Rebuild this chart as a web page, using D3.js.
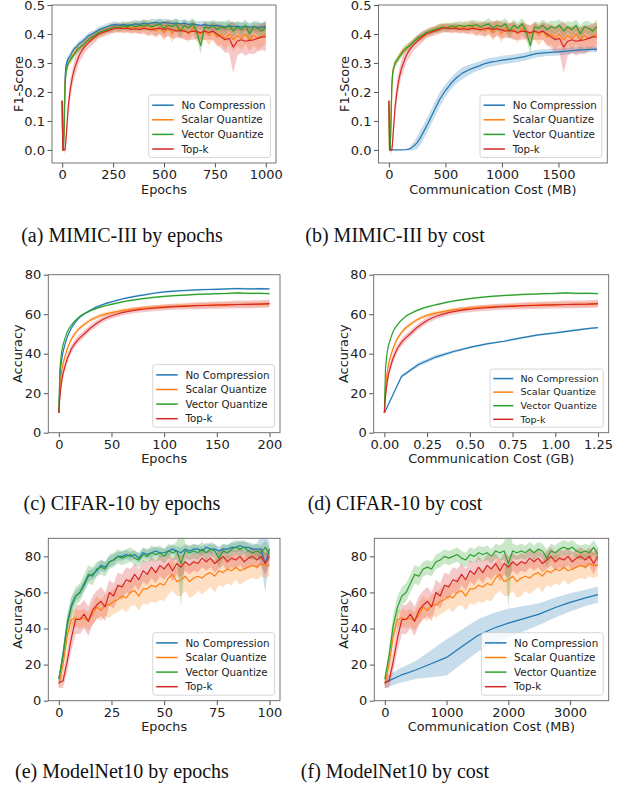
<!DOCTYPE html>
<html lang="en">
<head>
<meta charset="UTF-8">
<title>Compression comparison</title>
<script src="https://d3js.org/d3.v7.min.js"></script>
<style>
    body { margin: 0; background: #fff; }
    svg text { font-family: "DejaVu Sans", sans-serif; fill: #222; }
    svg text.caption { font-family: "Liberation Serif", "Times New Roman", serif; fill: #111; }
</style>
</head>
<body>
<svg id="fig" width="624" height="790"></svg>
<script>
const methods = ['No Compression', 'Scalar Quantize', 'Vector Quantize', 'Top-k'];
const colors = ['#1f77b4', '#ff7f0e', '#2ca02c', '#d62728'];

// ---- MIMIC-III (F1) ----
const mimicEpochs = [0,3,6,10,14,18,22,26,30,40,50,60,70,80,90,100,115,130,145,160,180,200,220,240,260,280,300,320,340,360,380,400,420,440,460,480,500,520,540,560,580,600,620,640,660,680,700,720,740,760,780,800,820,840,860,880,900,920,940,960,980,1000];
const mimicCost = [0,6,11,18,26,33,40,48,55,74,92,110,129,147,166,184,212,239,267,294,331,368,405,442,478,515,552,589,626,662,699,736,773,810,846,883,920,957,994,1030,1067,1104,1141,1178,1214,1251,1288,1325,1362,1398,1435,1472,1509,1546,1582,1619,1656,1693,1730,1766,1803,1840];
const mimicNoComp = [0.17,0,0,0.12,0.25,0.29,0.30,0.31,0.315,0.325,0.34,0.35,0.355,0.365,0.37,0.375,0.385,0.395,0.40,0.405,0.415,0.42,0.425,0.43,0.432,0.43,0.433,0.43,0.432,0.435,0.433,0.437,0.435,0.438,0.44,0.437,0.44,0.438,0.436,0.438,0.435,0.437,0.433,0.435,0.432,0.43,0.432,0.43,0.428,0.43,0.427,0.425,0.428,0.425,0.427,0.424,0.426,0.424,0.425,0.422,0.424,0.425];
const mimicNoCompSd = [0,0,0,0.02,0.02,0.015,0.015,0.012,0.012,0.012,0.01,0.01,0.01,0.01,0.01,0.01,0.01,0.01,0.01,0.01,0.01,0.01,0.012,0.01,0.012,0.01,0.012,0.01,0.012,0.014,0.012,0.014,0.012,0.015,0.012,0.014,0.012,0.014,0.012,0.014,0.012,0.014,0.012,0.014,0.012,0.015,0.014,0.015,0.014,0.015,0.014,0.015,0.014,0.016,0.014,0.015,0.014,0.016,0.015,0.016,0.015,0.016];
const mimicScalar = [0.17,0,0,0.10,0.23,0.265,0.28,0.29,0.30,0.31,0.325,0.335,0.345,0.35,0.355,0.36,0.37,0.38,0.385,0.39,0.40,0.41,0.415,0.42,0.42,0.425,0.42,0.425,0.42,0.425,0.42,0.43,0.415,0.425,0.41,0.42,0.405,0.425,0.40,0.42,0.41,0.415,0.40,0.42,0.405,0.40,0.41,0.395,0.41,0.39,0.40,0.385,0.40,0.38,0.395,0.385,0.40,0.38,0.395,0.385,0.39,0.40];
const mimicScalarSd = [0,0,0,0.02,0.02,0.015,0.015,0.015,0.012,0.012,0.012,0.012,0.012,0.012,0.012,0.012,0.012,0.012,0.012,0.012,0.012,0.015,0.012,0.015,0.015,0.015,0.015,0.018,0.015,0.02,0.02,0.02,0.025,0.02,0.025,0.02,0.03,0.025,0.03,0.025,0.025,0.03,0.03,0.025,0.03,0.03,0.03,0.035,0.03,0.035,0.035,0.04,0.035,0.04,0.035,0.04,0.035,0.04,0.035,0.04,0.035,0.035];
const mimicVector = [0.17,0,0,0.08,0.22,0.26,0.28,0.29,0.30,0.31,0.32,0.33,0.34,0.35,0.355,0.36,0.37,0.38,0.39,0.395,0.405,0.41,0.415,0.42,0.425,0.42,0.428,0.425,0.43,0.425,0.43,0.428,0.432,0.425,0.43,0.435,0.42,0.43,0.425,0.435,0.41,0.43,0.42,0.435,0.41,0.36,0.425,0.42,0.43,0.415,0.425,0.42,0.43,0.41,0.425,0.415,0.43,0.40,0.425,0.42,0.41,0.425];
const mimicVectorSd = [0,0,0,0.02,0.02,0.015,0.015,0.015,0.012,0.012,0.012,0.012,0.012,0.012,0.012,0.012,0.012,0.012,0.012,0.012,0.012,0.012,0.012,0.015,0.012,0.015,0.012,0.015,0.015,0.015,0.015,0.018,0.015,0.018,0.015,0.02,0.02,0.018,0.02,0.02,0.025,0.02,0.02,0.02,0.025,0.03,0.02,0.02,0.02,0.025,0.02,0.025,0.02,0.025,0.02,0.025,0.02,0.03,0.02,0.025,0.025,0.025];
const mimicTopk = [0.17,0,0,0,0,0.03,0.07,0.11,0.15,0.21,0.25,0.28,0.30,0.32,0.335,0.345,0.36,0.37,0.38,0.39,0.40,0.405,0.41,0.415,0.42,0.42,0.418,0.42,0.416,0.418,0.415,0.42,0.417,0.415,0.418,0.42,0.416,0.418,0.415,0.41,0.412,0.41,0.405,0.41,0.408,0.405,0.41,0.405,0.41,0.40,0.39,0.38,0.385,0.355,0.375,0.38,0.375,0.378,0.38,0.385,0.39,0.39];
const mimicTopkSd = [0,0,0,0.01,0.01,0.02,0.03,0.035,0.035,0.035,0.03,0.03,0.03,0.025,0.025,0.025,0.02,0.02,0.02,0.02,0.015,0.015,0.015,0.015,0.015,0.015,0.015,0.015,0.015,0.015,0.015,0.02,0.02,0.02,0.025,0.02,0.03,0.025,0.03,0.025,0.025,0.03,0.025,0.03,0.025,0.025,0.03,0.025,0.03,0.035,0.04,0.045,0.05,0.09,0.05,0.045,0.05,0.045,0.05,0.045,0.045,0.05];
// uncompressed run plotted against its own (much larger) communication cost
const mimicNoCompCost = [0,50,100,150,180,200,225,250,275,300,350,400,450,500,550,600,650,700,750,800,850,900,950,1000,1100,1200,1300,1400,1500,1600,1700,1840];
const mimicNoCompByCost = [0,0,0,0.001,0.003,0.008,0.015,0.025,0.04,0.058,0.095,0.135,0.175,0.205,0.23,0.25,0.265,0.275,0.283,0.29,0.298,0.303,0.306,0.31,0.315,0.322,0.332,0.336,0.338,0.342,0.345,0.348];
const mimicNoCompByCostSd = [0,0,0,0,0.005,0.01,0.015,0.022,0.025,0.025,0.025,0.025,0.025,0.022,0.02,0.02,0.02,0.018,0.016,0.015,0.015,0.015,0.015,0.015,0.014,0.014,0.013,0.012,0.012,0.011,0.01,0.01];

// ---- CIFAR-10 (accuracy) ----
const cifarEpochs = [0,1,2,3,4,6,8,10,12,15,18,21,25,30,35,40,45,50,55,60,65,70,75,80,90,100,110,120,130,140,150,160,170,180,190,200];
const cifarCost = [0,0.00625,0.0125,0.01875,0.025,0.0375,0.05,0.0625,0.075,0.09375,0.1125,0.13125,0.15625,0.1875,0.21875,0.25,0.28125,0.3125,0.34375,0.375,0.40625,0.4375,0.46875,0.5,0.5625,0.625,0.6875,0.75,0.8125,0.875,0.9375,1,1.0625,1.125,1.1875,1.25];
const cifarNoComp = [10,28,34,38,41,45,48.5,51,53,55.5,57.5,59,60.5,62,63.5,64.5,65.5,66.2,67,67.7,68.3,68.8,69.3,69.7,70.6,71.3,71.7,72,72.3,72.5,72.6,72.8,73,72.8,72.9,72.8];
const cifarNoCompSd = [0,1,0.8,0.7,0.6,0.5,0.5,0.5,0.5,0.5,0.5,0.5,0.5,0.5,0.5,0.5,0.5,0.5,0.5,0.5,0.5,0.5,0.5,0.5,0.5,0.5,0.5,0.5,0.5,0.5,0.5,0.5,0.5,0.5,0.5,0.5];
const cifarScalar = [10,22,28,32,35,39,42.5,45,47.5,50,52,53.5,55.2,57,58.3,59.4,60.2,60.8,61.3,61.8,62.2,62.5,62.8,63.1,63.5,63.8,64,64.3,64.4,64.6,64.7,64.8,64.9,65,65,65.2];
const cifarScalarSd = [0,1.5,1.5,1.5,1.5,1.2,1.2,1.2,1.2,1.2,1,1,1,1,1,1,1,1,1,1,1,1,1,1,1,1,1,1,1.2,1.2,1.2,1.2,1.2,1.2,1.2,1.2];
const cifarVector = [10,32,38,42,44.5,48,51,53,54.5,56.5,58,59.3,60.5,61.8,62.8,63.7,64.4,65,65.6,66.2,66.7,67.1,67.5,67.9,68.5,69,69.4,69.7,70,70.2,70.4,70.5,70.8,70.5,70.6,70.4];
const cifarVectorSd = [0,1,0.8,0.7,0.6,0.5,0.5,0.5,0.5,0.5,0.5,0.5,0.5,0.5,0.5,0.5,0.5,0.5,0.5,0.5,0.5,0.5,0.5,0.5,0.5,0.5,0.5,0.5,0.5,0.5,0.5,0.5,0.5,0.5,0.5,0.5];
const cifarTopk = [10,18,23,27,30,34,37.5,40,42.5,45,47,48.5,50.5,53,55,56.8,58.2,59.2,60,60.8,61.3,61.8,62.2,62.5,63,63.5,63.8,64,64.3,64.4,64.6,64.7,64.9,65,65.1,65.4];
const cifarTopkSd = [0,2.5,2.5,2.5,2.5,2.5,2.5,2.2,2,2,2,1.8,1.8,1.6,1.6,1.5,1.5,1.5,1.5,1.5,1.5,1.5,1.5,1.5,1.5,1.6,1.6,1.6,1.8,1.8,1.8,1.8,2,2,2,2];
const cifarNoCompCost = [0,0.1,0.2,0.3,0.4,0.5,0.6,0.7,0.8,0.9,1.0,1.1,1.2,1.25];
const cifarNoCompByCost = [10,28.5,34.5,38.3,41,43.2,45,46.3,48,49.5,50.5,51.7,52.8,53.2];
const cifarNoCompByCostSd = [0,0.8,1,1,0.8,0.6,0.5,0.5,0.5,0.5,0.5,0.5,0.5,0.5];

// ---- ModelNet10 (accuracy) ----
const modelEpochs = [0,2,4,6,8,10,12,14,16,18,20,22,24,26,28,30,32,34,36,38,40,42,44,46,48,50,52,54,56,58,60,62,64,66,68,70,72,74,76,78,80,82,84,86,88,90,92,94,96,98,100];
const modelCost = [0,69,138,207,276,345,414,483,552,621,690,759,828,897,966,1035,1104,1173,1242,1311,1380,1449,1518,1587,1656,1725,1794,1863,1932,2001,2070,2139,2208,2277,2346,2415,2484,2553,2622,2691,2760,2829,2898,2967,3036,3105,3174,3243,3312,3381,3450];
const modelNoComp = [12,26,43,53,58,60,64,69,70,72,75,74,77,78,80,80,81,80,81,79,82,81,82,83,82,82,83,84,83,82,84,83,84,84,83,85,84,84,83,84,84,85,85,86,85,85,84,84,84,76,84];
const modelNoCompSd = [2,3,4,4,3,3,3,3,3,3,3,3,3,3,2.5,2.5,2.5,2.5,2.5,2.5,2.5,2.5,2.5,2.5,2.5,2.5,2.5,2.5,2.5,3,2.5,2.5,2.5,2.5,2.5,2.5,2.5,2.5,2.5,2.5,2.5,2.5,2.5,3,3,3,3,3,8,16,4];
const modelScalar = [9,20,36,45,46,45,46,44,48,52,50,53,53,55,56,58,57,60,61,58,62,62,64,63,65,64,68,70,66,67,69,66,68,69,68,70,71,69,72,71,73,72,74,72,73,74,75,74,76,75,75];
const modelScalarSd = [3,5,6,5,5,5,5,5,6,6,6,6,7,7,7,7,8,8,8,8,8,9,9,9,9,9,9,9,8,9,8,9,10,8,9,9,8,9,8,8,8,8,7,8,7,7,7,7,7,7,6];
const modelVector = [12,25,42,52,58,60,65,70,69,73,74,73,77,78,80,79,80,81,79,78,81,80,82,81,82,80,83,82,83,76,83,82,83,82,84,82,84,83,79,83,82,84,85,84,85,83,82,83,82,85,81];
const modelVectorSd = [2,4,6,6,5,5,5,5,5,4,4,4,4,4,4,4,4,4,4,4,4,4,4,4,4,4,4,4,5,24,4,4,4,4,4,4,4,4,5,4,4,4,4,4,4,4,4,4,4,4,4];
const modelTopk = [10,11,22,35,45,45,48,44,50,53,55,52,60,58,64,63,67,66,70,67,72,70,74,71,75,73,76,72,76,74,77,75,77,76,79,77,79,76,78,80,77,79,78,80,77,79,80,78,80,76,80];
const modelTopkSd = [3,4,6,7,8,8,8,8,8,8,8,8,7,7,7,7,7,7,6,6,6,6,6,6,6,6,6,6,6,6,5,5,5,5,5,5,5,5,5,5,5,5,5,5,5,5,5,5,5,6,5];
const modelNoCompCost = [0,250,500,750,1000,1250,1500,1750,2000,2250,2500,2750,3000,3250,3450];
const modelNoCompByCost = [10,14,17,20.5,24,30,36,40,43,45.5,48,51.5,54.5,57,58.8];
const modelNoCompByCostSd = [3,4,5,7.5,10,9.5,9,8.5,8,7,6,5.5,5,4.5,4.5];

// ---- tick labels ----
const f1Ticks = [0, 0.1, 0.2, 0.3, 0.4, 0.5];
const accTicks = [0, 20, 40, 60, 80];
const mimicEpochTicks = [0, 250, 500, 750, 1000];
const mimicCostTicks = [0, 500, 1000, 1500];
const cifarEpochTicks = [0, 50, 100, 150, 200];
const cifarCostTicks = [0, 0.25, 0.5, 0.75, 1.0, 1.25];
const modelEpochTicks = [0, 25, 50, 75, 100];
const modelCostTicks = [0, 1000, 2000, 3000];

const captions = ['(a) MIMIC-III by epochs', '(b) MIMIC-III by cost', '(c) CIFAR-10 by epochs',
                  '(d) CIFAR-10 by cost', '(e) ModelNet10 by epochs', '(f) ModelNet10 by cost'];

function runs(xs, ys, sds) {
    return xs.map((x, i) => ({ x: x, y: ys[i], sd: sds[i] }));
}

const panels = [
    {
        box: [52, 5, 276, 163], xDomain: [-50, 1050], yDomain: [-0.045, 0.5],
        xTicks: mimicEpochTicks, yTicks: f1Ticks, xFmt: d3.format('d'), yFmt: d3.format('.1f'),
        xLabel: 'Epochs', yLabel: 'F1-Score', yLabelX: 22.5, legendScale: 1,
        series: [runs(mimicEpochs, mimicNoComp, mimicNoCompSd), runs(mimicEpochs, mimicScalar, mimicScalarSd),
                 runs(mimicEpochs, mimicVector, mimicVectorSd), runs(mimicEpochs, mimicTopk, mimicTopkSd)],
        capX: 122, capY: 242
    },
    {
        box: [378.5, 5, 607.3, 163], xDomain: [-92, 1932], yDomain: [-0.045, 0.5],
        xTicks: mimicCostTicks, yTicks: f1Ticks, xFmt: d3.format('d'), yFmt: d3.format('.1f'),
        xLabel: 'Communication Cost (MB)', yLabel: 'F1-Score', yLabelX: 348.5, legendScale: 1,
        series: [runs(mimicNoCompCost, mimicNoCompByCost, mimicNoCompByCostSd), runs(mimicCost, mimicScalar, mimicScalarSd),
                 runs(mimicCost, mimicVector, mimicVectorSd), runs(mimicCost, mimicTopk, mimicTopkSd)],
        capX: 395, capY: 242
    },
    {
        box: [48.3, 274.7, 280, 432.7], xDomain: [-10, 210], yDomain: [0, 80],
        xTicks: cifarEpochTicks, yTicks: accTicks, xFmt: d3.format('d'), yFmt: d3.format('d'),
        xLabel: 'Epochs', yLabel: 'Accuracy', yLabelX: 21.5, legendScale: 1,
        series: [runs(cifarEpochs, cifarNoComp, cifarNoCompSd), runs(cifarEpochs, cifarScalar, cifarScalarSd),
                 runs(cifarEpochs, cifarVector, cifarVectorSd), runs(cifarEpochs, cifarTopk, cifarTopkSd)],
        capX: 122, capY: 510
    },
    {
        box: [373.7, 274.7, 608.7, 432.7], xDomain: [-0.0625, 1.3125], yDomain: [0, 80],
        xTicks: cifarCostTicks, yTicks: accTicks, xFmt: d3.format('.2f'), yFmt: d3.format('d'),
        xLabel: 'Communication Cost (GB)', yLabel: 'Accuracy', yLabelX: 347.5, legendScale: 0.93,
        series: [runs(cifarNoCompCost, cifarNoCompByCost, cifarNoCompByCostSd), runs(cifarCost, cifarScalar, cifarScalarSd),
                 runs(cifarCost, cifarVector, cifarVectorSd), runs(cifarCost, cifarTopk, cifarTopkSd)],
        capX: 395, capY: 510
    },
    {
        box: [48.3, 538.3, 280, 700.7], xDomain: [-5, 105], yDomain: [0, 90],
        xTicks: modelEpochTicks, yTicks: accTicks, xFmt: d3.format('d'), yFmt: d3.format('d'),
        xLabel: 'Epochs', yLabel: 'Accuracy', yLabelX: 21.5, legendScale: 1,
        series: [runs(modelEpochs, modelNoComp, modelNoCompSd), runs(modelEpochs, modelScalar, modelScalarSd),
                 runs(modelEpochs, modelVector, modelVectorSd), runs(modelEpochs, modelTopk, modelTopkSd)],
        capX: 122, capY: 778
    },
    {
        box: [374.3, 538.3, 608.7, 700.7], xDomain: [-170, 3625], yDomain: [0, 90],
        xTicks: modelCostTicks, yTicks: accTicks, xFmt: d3.format('d'), yFmt: d3.format('d'),
        xLabel: 'Communication Cost (MB)', yLabel: 'Accuracy', yLabelX: 347.5, legendScale: 1,
        series: [runs(modelNoCompCost, modelNoCompByCost, modelNoCompByCostSd), runs(modelCost, modelScalar, modelScalarSd),
                 runs(modelCost, modelVector, modelVectorSd), runs(modelCost, modelTopk, modelTopkSd)],
        capX: 395, capY: 778
    }
];

const svg = d3.select('#fig');

panels.forEach((p, pi) => {
    const [x0, y0, x1, y1] = p.box;
    const x = d3.scaleLinear().domain(p.xDomain).range([x0, x1]);
    const y = d3.scaleLinear().domain(p.yDomain).range([y1, y0]);

    const clipId = 'clip' + pi;
    svg.append('clipPath').attr('id', clipId)
        .append('rect').attr('x', x0).attr('y', y0).attr('width', x1 - x0).attr('height', y1 - y0);

    const plot = svg.append('g').attr('clip-path', `url(#${clipId})`);

    const area = d3.area()
        .x(d => x(d.x))
        .y0(d => y(d.y - d.sd))
        .y1(d => y(d.y + d.sd));
    const line = d3.line()
        .x(d => x(d.x))
        .y(d => y(d.y));

    p.series.forEach((s, i) => {
        plot.append('path').attr('d', area(s))
            .attr('fill', colors[i]).attr('fill-opacity', 0.25).attr('stroke', 'none');
    });
    p.series.forEach((s, i) => {
        plot.append('path').attr('d', line(s))
            .attr('fill', 'none').attr('stroke', colors[i]).attr('stroke-width', 1.2)
            .attr('stroke-linejoin', 'round');
    });

    // axes
    const xAxis = svg.append('g').attr('transform', `translate(0,${y1})`)
        .call(d3.axisBottom(x).tickValues(p.xTicks).tickFormat(p.xFmt).tickSize(4.5).tickPadding(2.5));
    const yAxis = svg.append('g').attr('transform', `translate(${x0},0)`)
        .call(d3.axisLeft(y).tickValues(p.yTicks).tickFormat(p.yFmt).tickSize(4.5).tickPadding(2.5));
    [xAxis, yAxis].forEach(ax => {
        ax.select('.domain').remove();
        ax.selectAll('line').attr('stroke', '#555');
        ax.selectAll('text').attr('font-size', 13).attr('font-family', 'DejaVu Sans').attr('fill', '#222');
    });

    svg.append('rect').attr('x', x0).attr('y', y0).attr('width', x1 - x0).attr('height', y1 - y0)
        .attr('fill', 'none').attr('stroke', '#666').attr('stroke-width', 0.9);

    svg.append('text').attr('x', (x0 + x1) / 2).attr('y', y1 + 30.5)
        .attr('text-anchor', 'middle').attr('font-size', 12.8).text(p.xLabel);
    svg.append('text')
        .attr('transform', `translate(${p.yLabelX},${(y0 + y1) / 2}) rotate(-90)`)
        .attr('text-anchor', 'middle').attr('font-size', 12.8).text(p.yLabel);

    // legend, lower right
    const k = p.legendScale;
    const lg = svg.append('g');
    const frame = lg.append('rect');
    const labels = methods.map((m, i) => lg.append('text')
        .attr('font-size', 10.3 * k).attr('dy', '0.35em').text(m));
    const textW = d3.max(labels, t => t.node().getComputedTextLength());
    const lw = 32.7 * k + textW + 5 * k;
    const lh = 62.5 * k;
    const lx = x1 - 5.5 - lw;
    const ly = y1 - 5.5 - lh;
    frame.attr('x', lx).attr('y', ly).attr('width', lw).attr('height', lh)
        .attr('rx', 2.5).attr('fill', '#fff').attr('fill-opacity', 0.8)
        .attr('stroke', '#d3d3d3').attr('stroke-width', 0.9);
    labels.forEach((t, i) => {
        const cy = ly + (10.2 + i * 14.6) * k;
        t.attr('x', lx + 32.7 * k).attr('y', cy);
        lg.append('line').attr('x1', lx + 3.5 * k).attr('x2', lx + 25 * k)
            .attr('y1', cy).attr('y2', cy)
            .attr('stroke', colors[i]).attr('stroke-width', 1.5);
    });

    svg.append('text').attr('class', 'caption')
        .attr('x', p.capX).attr('y', p.capY)
        .attr('text-anchor', 'middle').attr('font-size', 20).text(captions[pi]);
});
</script>
</body>
</html>
